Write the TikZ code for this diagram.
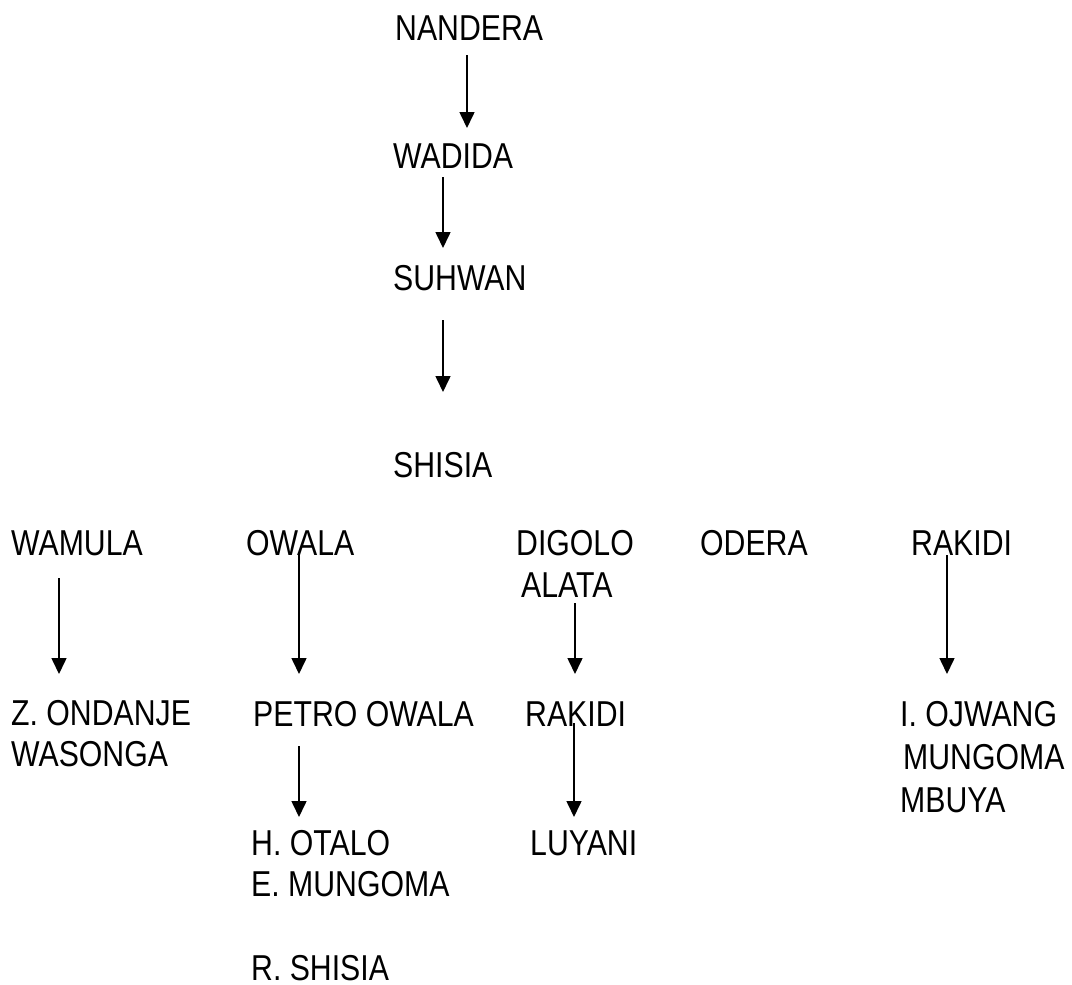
\documentclass[tikz,border=0pt]{standalone}
\usepackage{fontspec}
\setmainfont[FakeStretch=0.84]{Liberation Sans}
\usetikzlibrary{arrows.meta,calc}
\tikzset{
  lbl/.style={anchor=base west, inner sep=0pt, font=\fontsize{36}{42}\selectfont},
  arr/.style={line width=1.6pt, -{Triangle[width=15pt,length=16pt]}}
}
\begin{document}
\begin{tikzpicture}[x=1pt,y=1pt]
\useasboundingbox (0,-985) rectangle (1072,0);
% names
\node[lbl] (nandera) at (395,-40) {NANDERA};
\node[lbl] (wadida) at (393,-168) {WADIDA};
\node[lbl] (suhwan) at (393,-290) {SUHWAN};
\node[lbl] (shisia) at (393,-477) {SHISIA};
\node[lbl] (wamula) at (11,-555) {WAMULA};
\node[lbl] (owala) at (246,-555) {OWALA};
\node[lbl] (digolo) at (516,-555) {DIGOLO};
\node[lbl] (alata) at (521,-597) {ALATA};
\node[lbl] (odera) at (700,-555) {ODERA};
\node[lbl] (rakidiA) at (911,-555) {RAKIDI};
\node[lbl] (ondanje) at (11,-725) {Z. ONDANJE};
\node[lbl] (wasonga) at (11,-766) {WASONGA};
\node[lbl] (petro) at (253,-726) {PETRO OWALA};
\node[lbl] (rakidiB) at (525,-726) {RAKIDI};
\node[lbl] (ojwang) at (900,-726) {I. OJWANG};
\node[lbl] (mungoma) at (903,-769) {MUNGOMA};
\node[lbl] (mbuya) at (900,-812) {MBUYA};
\node[lbl] (otalo) at (251,-855) {H. OTALO};
\node[lbl] (emungoma) at (251,-896) {E. MUNGOMA};
\node[lbl] (rshisia) at (251,-980) {R. SHISIA};
\node[lbl] (luyani) at (530,-855) {LUYANI};
% arrows
\draw[arr] ($(nandera.base west)+(72,-15)$) -- ($(wadida.base west)+(74,40)$);
\draw[arr] ($(wadida.base west)+(50,-9)$) -- ($(suhwan.base west)+(50,42)$);
\draw[arr] ($(suhwan.base west)+(50,-30)$) -- ($(shisia.base west)+(50,85)$);
\draw[arr] ($(wamula.base west)+(48,-23)$) -- ($(ondanje.base west)+(48,51)$);
\draw[arr] ($(owala.base west)+(53,0)$) -- ($(petro.base west)+(46,52)$);
\draw[arr] ($(alata.base west)+(54,-6)$) -- ($(rakidiB.base west)+(50,52)$);
\draw[arr] ($(rakidiA.base west)+(36,0)$) -- ($(ojwang.base west)+(47,52)$);
\draw[arr] ($(petro.base west)+(46,-20)$) -- ($(otalo.base west)+(48,38)$);
\draw[arr] ($(rakidiB.base west)+(49,3)$) -- ($(luyani.base west)+(44,38)$);
\end{tikzpicture}
\end{document}
